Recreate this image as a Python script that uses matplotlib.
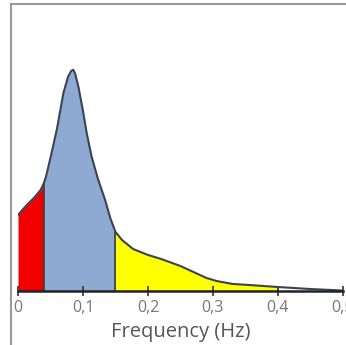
import matplotlib.pyplot as plt
from matplotlib.lines import Line2D
import numpy as np

# Power spectrum (relative units, peak ~1)
freq = [0.0, 0.014, 0.025, 0.035, 0.04, 0.043, 0.05, 0.06, 0.07, 0.077,
        0.082, 0.085, 0.088, 0.093, 0.1, 0.106, 0.113, 0.123, 0.134, 0.142,
        0.15, 0.16, 0.177, 0.2, 0.22, 0.25, 0.27, 0.29, 0.306, 0.33, 0.357,
        0.4, 0.45, 0.5]
power = [0.344, 0.390, 0.422, 0.457, 0.489, 0.516, 0.602, 0.733, 0.896,
         0.968, 0.995, 1.0, 0.982, 0.923, 0.814, 0.710, 0.611, 0.507, 0.412,
         0.330, 0.267, 0.231, 0.190, 0.163, 0.145, 0.113, 0.086, 0.059,
         0.045, 0.032, 0.027, 0.018, 0.009, 0.002]

# frequency bands: VLF, LF, HF
bands = [(0.0, 0.04), (0.04, 0.15), (0.15, 0.4)]
band_colors = ['#f20000', '#8eaad3', '#ffff00']

ticks = [0, 0.1, 0.2, 0.3, 0.4, 0.5]
tick_labels = ['0', '0,1', '0,2', '0,3', '0,4', '0,5']

plt.rcParams['font.family'] = ['Open Sans', 'DejaVu Sans']

freq = np.array(freq)
power = np.array(power)

fig = plt.figure(figsize=(3.46, 3.45), dpi=100)
ax = fig.add_axes([0.052, 0.1565, 0.939, 0.8145])

for (lo, hi), c in zip(bands, band_colors):
    m = (freq >= lo) & (freq <= hi)
    ax.fill_between(freq[m], 0, power[m], color=c, lw=0)
    ax.vlines(hi, 0, power[freq == hi][0], color='#3b3f35', lw=1.2)

ax.plot(freq, power, color='#3a4352', lw=1.5, solid_joinstyle='round')

ax.set_xlim(0, 0.5)
ax.set_ylim(0, 1.27)
for s in ['top', 'right', 'left']:
    ax.spines[s].set_visible(False)
ax.spines['bottom'].set_color('#222222')
ax.spines['bottom'].set_linewidth(1.8)
ax.set_yticks([])
ax.set_xticks(ticks)
ax.set_xticklabels(tick_labels)
ax.tick_params(axis='x', direction='inout', length=7, width=1.2,
               color='#333333', labelcolor='#777777', labelsize=11.5, pad=3)
ax.set_xlabel('Frequency (Hz)', fontsize=14.5, color='#555555', labelpad=4)

# grey frame of the original figure
fig.add_artist(Line2D([11 / 346, 11 / 346], [0, 1 - 4 / 345],
                      transform=fig.transFigure, color='#999999', lw=1.5))
fig.add_artist(Line2D([11 / 346, 1], [1 - 4 / 345, 1 - 4 / 345],
                      transform=fig.transFigure, color='#999999', lw=1.5))

fig.savefig('out.png', dpi=100)
